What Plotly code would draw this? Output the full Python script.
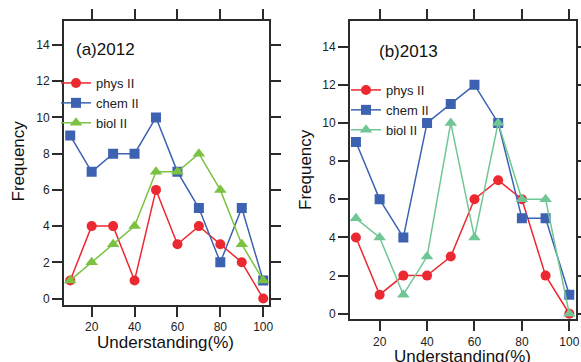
import plotly.graph_objects as go

# Understanding bins (%)
understanding = [10, 20, 30, 40, 50, 60, 70, 80, 90, 100]

# 2012 frequencies
phys_2012 = [1, 4, 4, 1, 6, 3, 4, 3, 2, 0]
chem_2012 = [9, 7, 8, 8, 10, 7, 5, 2, 5, 1]
biol_2012 = [1, 2, 3, 4, 7, 7, 8, 6, 3, 1]

# 2013 frequencies
phys_2013 = [4, 1, 2, 2, 3, 6, 7, 6, 2, 0]
chem_2013 = [9, 6, 4, 10, 11, 12, 10, 5, 5, 1]
biol_2013 = [5, 4, 1, 3, 10, 4, 10, 6, 6, 0]

x_ticks = [20, 40, 60, 80, 100]
y_ticks = [0, 2, 4, 6, 8, 10, 12, 14]

W, H = 581, 362
FONT = "Liberation Sans, Arial, sans-serif"
AXIS_COLOR = "#2b2b2b"

RED = "#ec2830"
BLUE = "#3d62b1"
GREEN_A = "#7cc242"
GREEN_B = "#70c795"

fig = go.Figure()


def add_series(y, name, color, symbol, size, xa, ya, legend):
    fig.add_trace(go.Scatter(
        x=understanding, y=y, name=name, mode="lines+markers",
        line=dict(color=color, width=1.5),
        marker=dict(color=color, symbol=symbol, size=size, line=dict(width=0)),
        xaxis=xa, yaxis=ya, legend=legend,
    ))


add_series(phys_2012, "phys II", RED, "circle", 10, "x", "y", "legend")
add_series(chem_2012, "chem II", BLUE, "square", 10, "x", "y", "legend")
add_series(biol_2012, "biol II", GREEN_A, "triangle-up", 11, "x", "y", "legend")

add_series(phys_2013, "phys II", RED, "circle", 10, "x2", "y2", "legend2")
add_series(chem_2013, "chem II", BLUE, "square", 10, "x2", "y2", "legend2")
add_series(biol_2013, "biol II", GREEN_B, "triangle-up", 11, "x2", "y2", "legend2")


def px_x(p):
    return p / W


def px_y(p):
    return 1 - p / H


common_axis = dict(
    showline=True, linewidth=2, linecolor=AXIS_COLOR,
    ticks="outside", ticklen=10, tickwidth=2, tickcolor=AXIS_COLOR,
    mirror="allticks", showgrid=False, zeroline=False, automargin=False,
    tickfont=dict(family=FONT, size=12, color="#222"),
)

fig.update_layout(
    width=W, height=H,
    margin=dict(l=0, r=0, t=0, b=0),
    paper_bgcolor="white", plot_bgcolor="white",
    showlegend=True,
    xaxis=dict(domain=[px_x(64), px_x(269)], range=[7.1, 102.7],
               tickvals=x_ticks, anchor="y", **common_axis),
    yaxis=dict(domain=[px_y(304.5), px_y(21)], range=[-0.33, 15.33],
               tickvals=y_ticks, anchor="x", **common_axis),
    xaxis2=dict(domain=[px_x(350), px_x(575.7)], range=[7.5, 102.7],
                tickvals=x_ticks, anchor="y2", **common_axis),
    yaxis2=dict(domain=[px_y(319.3), px_y(20.7)], range=[-0.29, 15.36],
                tickvals=y_ticks, anchor="x2", **common_axis),
    legend=dict(x=px_x(56), y=px_y(68), xanchor="left", yanchor="top",
                bgcolor="rgba(0,0,0,0)", itemwidth=30,
                font=dict(family=FONT, size=13, color="#222")),
    legend2=dict(x=px_x(346), y=px_y(75), xanchor="left", yanchor="top",
                 bgcolor="rgba(0,0,0,0)", itemwidth=30,
                 font=dict(family=FONT, size=13, color="#222")),
)

label_font = dict(family=FONT, size=17, color="#111")
annotations = [
    dict(text="(a)2012", x=px_x(74), y=px_y(50), xanchor="left", yanchor="middle"),
    dict(text="(b)2013", x=px_x(377), y=px_y(52), xanchor="left", yanchor="middle"),
    dict(text="Understanding(%)", x=px_x(165), y=px_y(342), xanchor="center", yanchor="middle"),
    dict(text="Understanding(%)", x=px_x(462.5), y=px_y(356), xanchor="center", yanchor="middle"),
    dict(text="Frequency", x=px_x(18.5), y=px_y(161), xanchor="center", yanchor="middle", textangle=-90),
    dict(text="Frequency", x=px_x(305), y=px_y(170), xanchor="center", yanchor="middle", textangle=-90),
]
for a in annotations:
    fig.add_annotation(xref="paper", yref="paper", showarrow=False,
                       font=label_font, **a)

fig.write_html("out.html")
